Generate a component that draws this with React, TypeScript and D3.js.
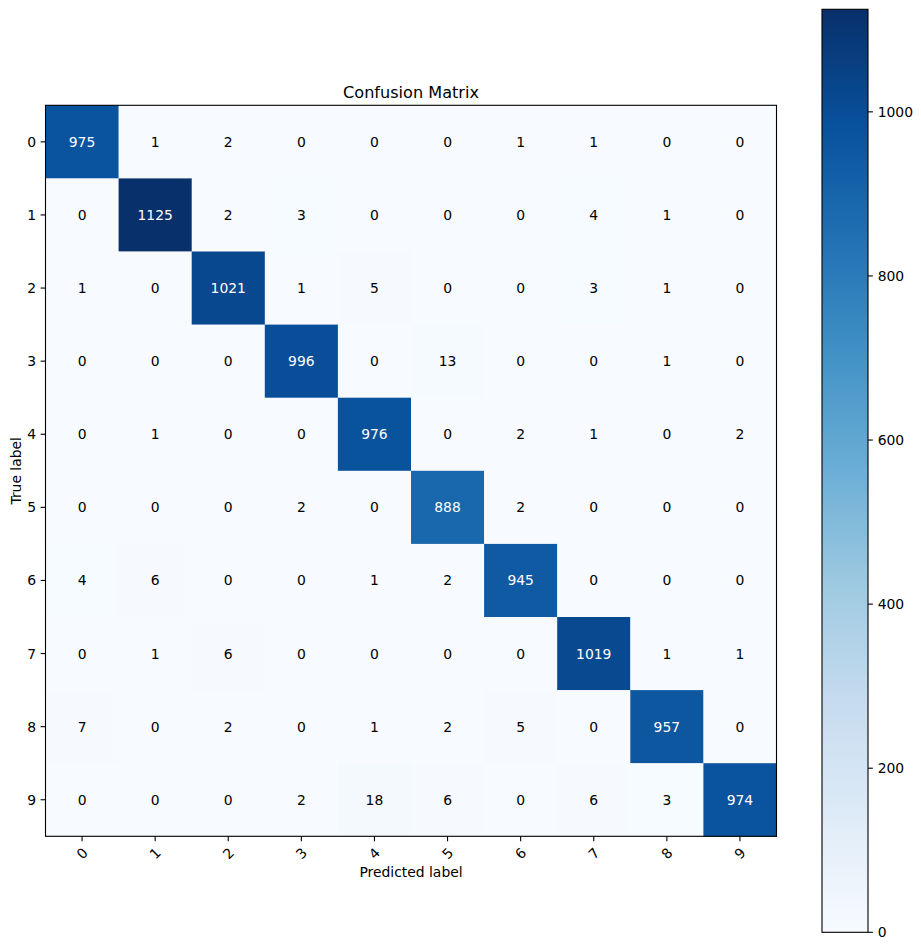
import { useRef, useEffect } from "react";
import * as d3 from "d3";

const classes = ["0", "1", "2", "3", "4", "5", "6", "7", "8", "9"];
const matrix: number[][] = [
  [975, 1, 2, 0, 0, 0, 1, 1, 0, 0],
  [0, 1125, 2, 3, 0, 0, 0, 4, 1, 0],
  [1, 0, 1021, 1, 5, 0, 0, 3, 1, 0],
  [0, 0, 0, 996, 0, 13, 0, 0, 1, 0],
  [0, 1, 0, 0, 976, 0, 2, 1, 0, 2],
  [0, 0, 0, 2, 0, 888, 2, 0, 0, 0],
  [4, 6, 0, 0, 1, 2, 945, 0, 0, 0],
  [0, 1, 6, 0, 0, 0, 0, 1019, 1, 1],
  [7, 0, 2, 0, 1, 2, 5, 0, 957, 0],
  [0, 0, 0, 2, 18, 6, 0, 6, 3, 974],
];
const colorbarTicks = [0, 200, 400, 600, 800, 1000];
// matplotlib "Blues" control colours
const blues = ["#f7fbff", "#deebf7", "#c6dbef", "#9ecae1", "#6baed6", "#4292c6", "#2171b5", "#08519c", "#08306b"];

export default function ConfusionMatrix() {
  const svgRef = useRef<SVGSVGElement>(null);
  const W = 921, H = 950;

  useEffect(() => {
    if (!svgRef.current) return;
    const svg = d3.select(svgRef.current);
    svg.selectAll("*").remove();
    const font = "DejaVu Sans, sans-serif";
    const fs = 13.9;

    const left = 45.5, top = 105.3, size = 731;
    const cells = matrix.flatMap((row, i) => row.map((v, j) => ({ i, j, v })));
    const vMax = d3.max(cells, d => d.v)!;
    const vMin = 0;

    const color = d3.scaleLinear<string>()
      .domain(blues.map((_, k) => vMin + (k / (blues.length - 1)) * (vMax - vMin)))
      .range(blues).interpolate(d3.interpolateRgb);

    const x = d3.scaleBand().domain(classes).range([0, size]);
    const y = d3.scaleBand().domain(classes).range([0, size]);

    const g = svg.append("g").attr("transform", `translate(${left},${top})`);

    g.selectAll("rect.cell").data(cells).enter().append("rect")
      .attr("x", d => x(classes[d.j])!).attr("y", d => y(classes[d.i])!)
      .attr("width", x.bandwidth() + 0.3).attr("height", y.bandwidth() + 0.3)
      .attr("fill", d => color(d.v));

    const thresh = vMax / 2;
    g.selectAll("text.val").data(cells).enter().append("text")
      .attr("x", d => x(classes[d.j])! + x.bandwidth() / 2)
      .attr("y", d => y(classes[d.i])! + y.bandwidth() / 2)
      .attr("dy", "0.36em").attr("text-anchor", "middle")
      .attr("font-family", font).attr("font-size", fs)
      .attr("fill", d => (d.v > thresh ? "white" : "black"))
      .text(d => d.v);

    g.append("rect").attr("x", 0).attr("y", 0).attr("width", size).attr("height", size)
      .attr("fill", "none").attr("stroke", "black").attr("stroke-width", 1.1);

    // x axis
    const xa = g.append("g").attr("transform", `translate(0,${size})`);
    classes.forEach(c => {
      const cx = x(c)! + x.bandwidth() / 2;
      xa.append("line").attr("x1", cx).attr("x2", cx).attr("y1", 0).attr("y2", 4.9)
        .attr("stroke", "black").attr("stroke-width", 1.1);
      xa.append("text").attr("transform", `translate(${cx},${17}) rotate(-45)`)
        .attr("text-anchor", "middle").attr("dy", "0.36em")
        .attr("font-family", font).attr("font-size", fs).text(c);
    });
    g.append("text").attr("x", size / 2).attr("y", size + 36).attr("dy", "0.36em")
      .attr("text-anchor", "middle").attr("font-family", font).attr("font-size", fs)
      .text("Predicted label");

    // y axis
    const ya = g.append("g");
    classes.forEach(c => {
      const cy = y(c)! + y.bandwidth() / 2;
      ya.append("line").attr("x1", -4.9).attr("x2", 0).attr("y1", cy).attr("y2", cy)
        .attr("stroke", "black").attr("stroke-width", 1.1);
      ya.append("text").attr("x", -9.5).attr("y", cy).attr("dy", "0.36em")
        .attr("text-anchor", "end").attr("font-family", font).attr("font-size", fs).text(c);
    });
    g.append("text").attr("transform", `translate(${-30},${size / 2}) rotate(-90)`)
      .attr("text-anchor", "middle").attr("dy", "0.36em")
      .attr("font-family", font).attr("font-size", fs).text("True label");

    // title
    g.append("text").attr("x", size / 2).attr("y", -7.8)
      .attr("text-anchor", "middle").attr("font-family", font).attr("font-size", 16.1)
      .text("Confusion Matrix");

    // colorbar
    const cbX = 822, cbTop = 9.3, cbBottom = 932.3, cbW = 46;
    const cScale = d3.scaleLinear().domain([vMin, vMax]).range([cbBottom, cbTop]);
    const defs = svg.append("defs");
    const grad = defs.append("linearGradient").attr("id", "cb-grad")
      .attr("x1", "0%").attr("y1", "100%").attr("x2", "0%").attr("y2", "0%");
    blues.forEach((col, k) => {
      grad.append("stop").attr("offset", `${(k / (blues.length - 1)) * 100}%`).attr("stop-color", col);
    });
    svg.append("rect").attr("x", cbX).attr("y", cbTop).attr("width", cbW).attr("height", cbBottom - cbTop)
      .attr("fill", "url(#cb-grad)").attr("stroke", "black").attr("stroke-width", 1.1);
    const cb = svg.append("g").attr("transform", `translate(${cbX + cbW},0)`);
    colorbarTicks.forEach(t => {
      cb.append("line").attr("x1", 0).attr("x2", 4.9).attr("y1", cScale(t)).attr("y2", cScale(t))
        .attr("stroke", "black").attr("stroke-width", 1.1);
      cb.append("text").attr("x", 9.7).attr("y", cScale(t)).attr("dy", "0.36em")
        .attr("font-family", font).attr("font-size", fs).text(t);
    });
  }, []);

  return <svg ref={svgRef} width={W} height={H} style={{ display: "block", margin: "-8px" }} />;
}
